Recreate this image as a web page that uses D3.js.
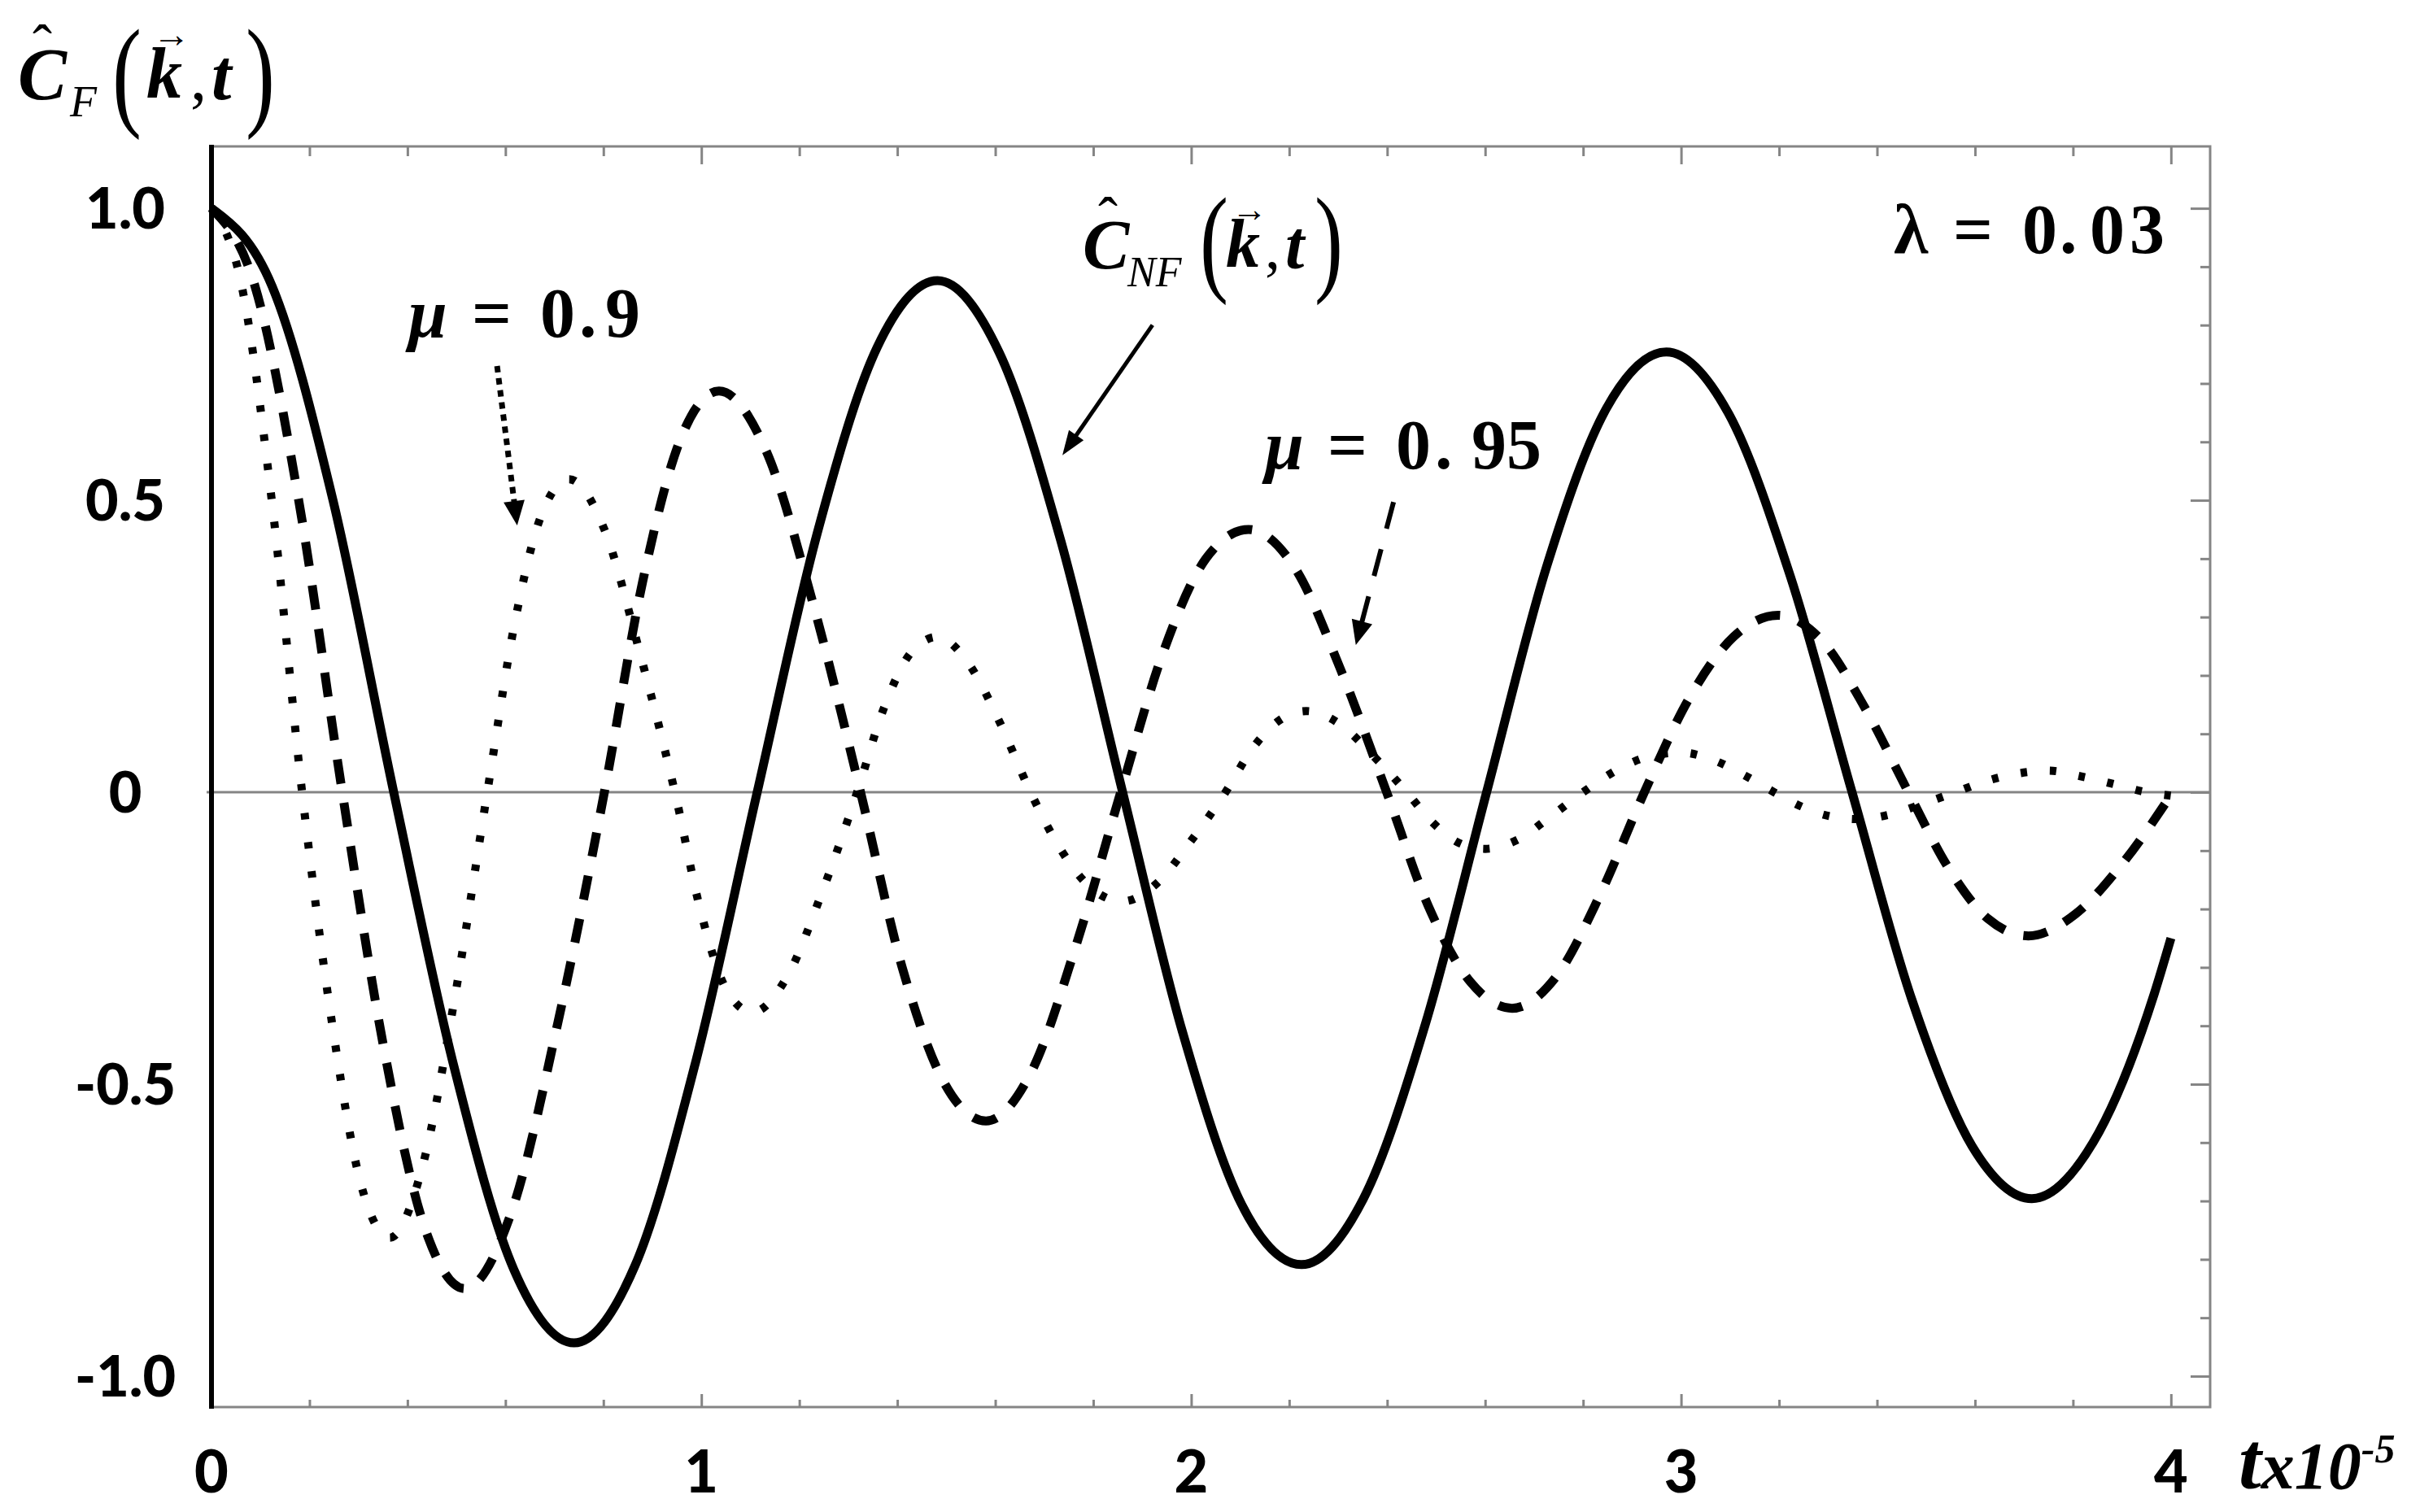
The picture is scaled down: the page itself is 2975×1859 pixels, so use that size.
<!DOCTYPE html>
<html><head><meta charset="utf-8">
<script src="https://cdn.jsdelivr.net/npm/d3@7"></script>
<style>html,body{margin:0;padding:0;background:#fff;} svg{display:block;}</style>
</head><body>
<svg id="chart" width="2975" height="1859"></svg>
<script>
// ---- data ----
const xMajorTicks = [0, 1, 2, 3, 4];
const xTickLabels = ["0", "1", "2", "3", "4"];
const yMajorTicks = [-1, -0.5, 0, 0.5, 1];
const yTickLabels = ["-1.0", "-0.5", "0", "0.5", "1.0"];

// C_NF(k,t) : solid
const tNF = [0, 0.124, 0.248, 0.372, 0.495, 0.617, 0.740, 0.865, 0.989, 1.114, 1.237, 1.359, 1.482, 1.608, 1.734, 1.860, 1.982, 2.103, 2.225, 2.351, 2.477, 2.603, 2.725, 2.848, 2.970, 3.096, 3.223, 3.349, 3.471, 3.594, 3.716, 3.841, 3.966, 4.0];
const cNF = [1.0, 0.866, 0.50, 0, -0.47, -0.817, -0.943, -0.81, -0.46, 0, 0.445, 0.762, 0.876, 0.753, 0.43, 0, -0.41, -0.706, -0.809, -0.697, -0.40, 0, 0.385, 0.658, 0.754, 0.65, 0.37, 0, -0.355, -0.606, -0.696, -0.60, -0.345, -0.25];

// mu = 0.95 : dashed
const t095 = [0, 0.089, 0.178, 0.267, 0.350, 0.433, 0.517, 0.612, 0.707, 0.802, 0.880, 0.958, 1.036, 1.132, 1.229, 1.325, 1.410, 1.496, 1.581, 1.673, 1.764, 1.856, 1.943, 2.030, 2.117, 2.211, 2.305, 2.399, 2.484, 2.570, 2.655, 2.745, 2.835, 2.925, 3.016, 3.107, 3.198, 3.287, 3.375, 3.464, 3.546, 3.627, 3.709, 3.806, 3.903, 4.0];
const c095 = [1.0, 0.866, 0.50, 0, -0.43, -0.74, -0.850, -0.72, -0.395, 0, 0.36, 0.606, 0.687, 0.585, 0.32, 0, -0.30, -0.498, -0.563, -0.48, -0.265, 0, 0.24, 0.40, 0.450, 0.385, 0.21, 0, -0.195, -0.325, -0.370, -0.316, -0.175, 0, 0.16, 0.266, 0.303, 0.26, 0.145, 0, -0.13, -0.217, -0.246, -0.208, -0.12, -0.005];

// mu = 0.9 : dotted
const t09 = [0, 0.062, 0.123, 0.185, 0.246, 0.305, 0.364, 0.431, 0.497, 0.563, 0.619, 0.674, 0.730, 0.802, 0.874, 0.946, 0.999, 1.051, 1.104, 1.175, 1.247, 1.318, 1.373, 1.427, 1.482, 1.545, 1.609, 1.672, 1.735, 1.797, 1.86, 1.93, 2.00, 2.07, 2.125, 2.18, 2.235, 2.303, 2.372, 2.44, 2.493, 2.547, 2.60, 2.667, 2.733, 2.80, 2.867, 2.933, 3.00, 3.063, 3.127, 3.19, 3.247, 3.303, 3.36, 3.427, 3.493, 3.56, 3.623, 3.687, 3.75, 3.817, 3.883, 3.95, 4.0];
const c09 = [1.0, 0.866, 0.50, 0, -0.395, -0.671, -0.763, -0.64, -0.35, 0, 0.29, 0.476, 0.536, 0.45, 0.24, 0, -0.205, -0.338, -0.377, -0.316, -0.17, 0, 0.145, 0.238, 0.266, 0.221, 0.12, 0, -0.10, -0.165, -0.187, -0.156, -0.083, 0, 0.075, 0.123, 0.139, 0.117, 0.062, 0, -0.052, -0.087, -0.097, -0.081, -0.042, 0, 0.037, 0.061, 0.068, 0.056, 0.03, 0, -0.025, -0.041, -0.046, -0.038, -0.02, 0, 0.019, 0.032, 0.037, 0.027, 0.014, 0, -0.006];

// annotation arrows (data coordinates: [t0, y0, t1, y1])
const arrowNF = [1.921, 0.800, 1.737, 0.577];
const arrow09 = [0.583, 0.730, 0.624, 0.457];
const arrow095 = [2.413, 0.497, 2.336, 0.252];

// ---- drawing ----
const svg = d3.select("#chart");
const W = 2975, H = 1859;
svg.append("rect").attr("width", W).attr("height", H).attr("fill", "#fff");

const x = d3.scaleLinear().domain([0, 4.08]).range([260, 2717]);
const y = d3.scaleLinear().domain([-1.053, 1.106]).range([1730, 180]);
const gray = "#858585";
const serif = "'Liberation Serif','Times New Roman',serif";
const sans = "Lato,'Open Sans',sans-serif";

const [x0, x1] = x.range();
const [yb, yt] = y.range();

// minor/major ticks
const xMinor = d3.range(0, 4.001, 0.2).filter(v => Math.abs(v - Math.round(v)) > 1e-6);
const yMinor = d3.range(-10, 10.5, 1).map(v => v / 10).filter(v => Math.abs(v * 2 - Math.round(v * 2)) > 1e-6);

function styleAxis(g) {
  g.select(".domain").remove();
  g.selectAll(".tick line").attr("stroke", gray).attr("stroke-width", 3);
  g.selectAll(".tick text").remove();
}
// top
svg.append("g").attr("transform", `translate(0,${yt})`)
  .call(d3.axisBottom(x).tickValues(xMinor).tickSize(12).tickFormat("")).call(styleAxis);
svg.append("g").attr("transform", `translate(0,${yt})`)
  .call(d3.axisBottom(x).tickValues(xMajorTicks).tickSize(22).tickFormat("")).call(styleAxis);
// bottom
svg.append("g").attr("transform", `translate(0,${yb})`)
  .call(d3.axisTop(x).tickValues(xMinor).tickSize(9).tickFormat("")).call(styleAxis);
svg.append("g").attr("transform", `translate(0,${yb})`)
  .call(d3.axisTop(x).tickValues(xMajorTicks).tickSize(16).tickFormat("")).call(styleAxis);
// right
svg.append("g").attr("transform", `translate(${x1},0)`)
  .call(d3.axisLeft(y).tickValues(yMinor).tickSize(12).tickFormat("")).call(styleAxis);
svg.append("g").attr("transform", `translate(${x1},0)`)
  .call(d3.axisLeft(y).tickValues(yMajorTicks).tickSize(24).tickFormat("")).call(styleAxis);

// frame
svg.append("path")
  .attr("d", `M${x0},${yt}H${x1}V${yb}H${x0}`)
  .attr("fill", "none").attr("stroke", gray).attr("stroke-width", 3);
// zero line
svg.append("line").attr("x1", x0 - 6).attr("x2", x1).attr("y1", y(0)).attr("y2", y(0))
  .attr("stroke", gray).attr("stroke-width", 3);
// left axis (black)
svg.append("line").attr("x1", x0).attr("x2", x0).attr("y1", yt - 2).attr("y2", yb + 2)
  .attr("stroke", "#000").attr("stroke-width", 6);

// tick labels
svg.append("g").selectAll("text").data(xMajorTicks).join("text")
  .attr("x", d => x(d)).attr("y", 1835)
  .attr("text-anchor", "middle").attr("font-family", sans).attr("font-weight", 900)
  .attr("font-size", 72).text((d, i) => xTickLabels[i]);
svg.append("g").selectAll("text").data(yMajorTicks).join("text")
  .attr("x", 154).attr("y", d => y(d) + 25)
  .attr("text-anchor", "middle").attr("font-family", sans).attr("font-weight", 900)
  .attr("font-size", 70).text((d, i) => yTickLabels[i]);

// curves
const line = d3.line().x(d => x(d[0])).y(d => y(d[1])).curve(d3.curveMonotoneX);
const zip = (a, b) => a.map((v, i) => [v, b[i]]);
svg.append("path").datum(zip(t09, c09)).attr("d", line)
  .attr("fill", "none").attr("stroke", "#000").attr("stroke-width", 10)
  .attr("stroke-dasharray", "8,28");
svg.append("path").datum(zip(t095, c095)).attr("d", line)
  .attr("fill", "none").attr("stroke", "#000").attr("stroke-width", 11)
  .attr("stroke-dasharray", "30,24");
svg.append("path").datum(zip(tNF, cNF)).attr("d", line)
  .attr("fill", "none").attr("stroke", "#000").attr("stroke-width", 11)
  .attr("stroke-linejoin", "round");

// arrows
function arrow(a, dash, width, headLen, headHalf) {
  const X0 = x(a[0]), Y0 = y(a[1]), X1 = x(a[2]), Y1 = y(a[3]);
  const dx = X1 - X0, dy = Y1 - Y0, L = Math.hypot(dx, dy);
  const ux = dx / L, uy = dy / L;
  const bx = X1 - ux * headLen, by = Y1 - uy * headLen;
  svg.append("line").attr("x1", X0).attr("y1", Y0).attr("x2", bx + ux * 2).attr("y2", by + uy * 2)
    .attr("stroke", "#000").attr("stroke-width", width)
    .attr("stroke-dasharray", dash || null);
  svg.append("path")
    .attr("d", `M${X1},${Y1}L${bx - uy * headHalf},${by + ux * headHalf}L${bx + uy * headHalf},${by - ux * headHalf}Z`)
    .attr("fill", "#000");
}
arrow(arrowNF, null, 5, 30, 11);
arrow(arrow09, "8,7", 7, 30, 13);
arrow(arrow095, "34,26", 6, 30, 13);

// ---- math text helpers ----
function txt(str, X, Y, size, opts = {}) {
  const t = svg.append("text").attr("x", X).attr("y", Y)
    .attr("font-family", opts.family || serif)
    .attr("font-size", size)
    .attr("font-weight", opts.weight || 400)
    .attr("font-style", opts.style || "normal")
    .text(str);
  if (opts.anchor) t.attr("text-anchor", opts.anchor);
  return t;
}
function paren(str, X, Y, size, sx) {
  svg.append("text").attr("transform", `translate(${X},${Y}) scale(${sx},1)`)
    .attr("font-family", serif).attr("font-size", size).text(str);
}

// y-axis title  Ĉ_F(k⃗,t)
txt("\u02C6", 40, 80, 72);
txt("C", 22, 122, 90, {weight: 700, style: "italic"});
txt("F", 86, 143, 54, {style: "italic"});
paren("(", 138, 140, 150, 0.72);
txt("k", 180, 120, 88, {weight: 700, style: "italic"});
txt("\u2192", 188, 58, 46);
txt(",", 234, 122, 80);
txt("t", 260, 122, 88, {weight: 700, style: "italic"});
paren(")", 302, 140, 150, 0.72);

// curve label  Ĉ_NF(k⃗,t)
txt("\u02C6", 1350, 292, 72);
txt("C", 1331, 330, 86, {weight: 700, style: "italic"});
txt("NF", 1386, 352, 52, {style: "italic"});
paren("(", 1475, 344, 146, 0.72);
txt("k", 1507, 328, 84, {weight: 700, style: "italic"});
txt("\u2192", 1514, 272, 44);
txt(",", 1555, 330, 76);
txt("t", 1580, 330, 84, {weight: 700, style: "italic"});
paren(")", 1616, 344, 146, 0.72);

// parameter labels
function param(sym, symStyle, pieces, baseY, size) {
  const t = svg.append("text").attr("y", baseY).attr("font-family", serif)
    .attr("font-size", size).attr("font-weight", 700);
  t.append("tspan").attr("x", sym[1]).attr("font-style", symStyle).text(sym[0]);
  pieces.forEach(p => t.append("tspan").attr("x", p[1]).text(p[0]));
}
param(["\u03BC", 502], "italic", [["=", 580], ["0", 664], [".", 712], ["9", 744]], 414, 86);
param(["\u03BC", 1555], "italic", [["=", 1632], ["0", 1716], [".", 1764], ["9", 1809], ["5", 1852]], 576, 86);
param(["\u03BB", 2328], "normal", [["=", 2401], ["0", 2486], [".", 2532], ["0", 2569], ["3", 2618]], 311, 86);

// x-axis title  tx10^-5
const xt = svg.append("text").attr("x", 2752).attr("y", 1830).attr("font-family", serif)
  .attr("font-style", "italic").attr("font-weight", 700);
xt.append("tspan").attr("font-size", 100).text("t");
xt.append("tspan").attr("font-size", 82).text("x10");
xt.append("tspan").attr("font-size", 50).attr("dy", -32).text("-5");
</script>
</body></html>
